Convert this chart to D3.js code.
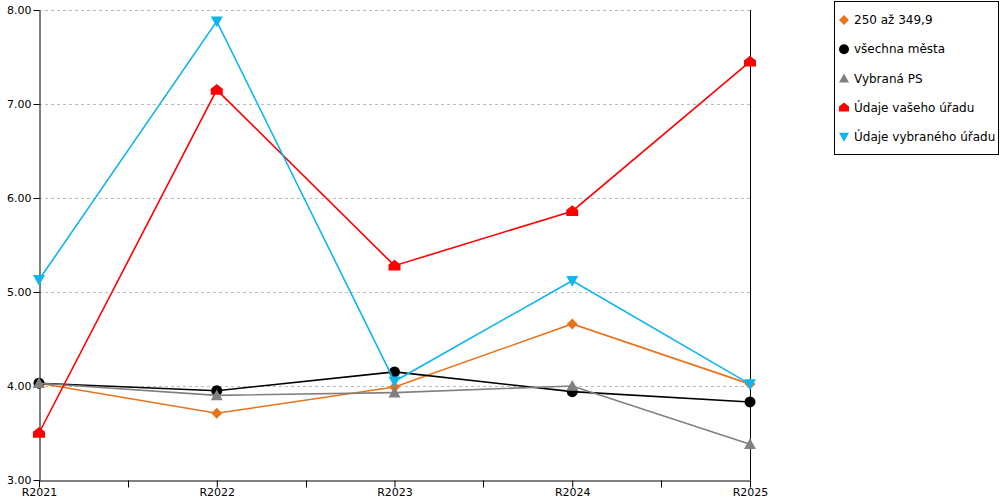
<!DOCTYPE html>
<html>
<head>
<meta charset="utf-8">
<script src="https://cdn.jsdelivr.net/npm/d3@7"></script>
<style>
  body { margin: 0; background: #fff; }
  svg { font-family: "DejaVu Sans", sans-serif; font-size: 11px; }
</style>
</head>
<body>
<svg id="chart" width="1000" height="500"></svg>
<script>
const years = ["R2021", "R2022", "R2023", "R2024", "R2025"];
const yTicks = [3, 4, 5, 6, 7, 8];

const seriesNames = ["250 až 349,9", "všechna města", "Vybraná PS", "Údaje vašeho úřadu", "Údaje vybraného úřadu"];
const seriesColors = ["#e8731c", "#000000", "#808080", "#ff0000", "#10b4ee"];
const seriesSymbols = ["diamond", "circle", "triangle", "house", "triangleDown"];

const range250 = [4.03, 3.71, 3.99, 4.66, 4.02];
const allCities = [4.03, 3.95, 4.15, 3.94, 3.83];
const selectedPS = [4.03, 3.90, 3.93, 4.00, 3.38];
const yourOffice = [3.50, 7.15, 5.28, 5.86, 7.45];
const selectedOffice = [5.13, 7.88, 4.05, 5.12, 4.02];

const seriesValues = [range250, allCities, selectedPS, yourOffice, selectedOffice];

(function () {
    'use strict';

    const svg = d3.select("#chart");
    const left = 39, right = 750, top = 10, bottom = 480;

    const x = d3.scalePoint().domain(years).range([left, right]);
    const y = d3.scaleLinear().domain([3, 8]).range([bottom, top]);

    // dotted grid
    svg.append("g")
        .selectAll("line")
        .data(yTicks.slice(1))
        .join("line")
        .attr("x1", left).attr("x2", right)
        .attr("y1", d => y(d) + 0.5).attr("y2", d => y(d) + 0.5)
        .attr("stroke", "#bbb")
        .attr("stroke-dasharray", "3,3");

    // y axis
    const yAxis = svg.append("g")
        .attr("transform", `translate(${left + 0.5},0)`)
        .call(d3.axisLeft(y).tickValues(yTicks).tickFormat(d3.format(".2f")).tickSize(6).tickSizeOuter(0));
    yAxis.select(".domain").attr("stroke", "#000");
    yAxis.selectAll("text").attr("font-size", 11).attr("fill", "#000").attr("dy", "0.32em").attr("x", -8);
    yAxis.selectAll("text").style("font-family", "DejaVu Sans");

    // x axis with minor ticks between categories
    const xAxis = svg.append("g")
        .attr("transform", `translate(0,${bottom + 0.5})`)
        .call(d3.axisBottom(x).tickSize(7).tickSizeOuter(0).tickPadding(1));
    xAxis.select(".domain").attr("stroke", "#000");
    xAxis.selectAll("text").attr("font-size", 11).attr("fill", "#000").style("font-family", "DejaVu Sans");
    const mids = years.slice(1).map((d, i) => (x(years[i]) + x(d)) / 2);
    xAxis.selectAll(".mid")
        .data(mids)
        .join("line")
        .attr("class", "mid")
        .attr("x1", d => Math.round(d) + 0.5).attr("x2", d => Math.round(d) + 0.5)
        .attr("y1", 0).attr("y2", 7)
        .attr("stroke", "#000");

    // right border
    svg.append("line")
        .attr("x1", right + 0.5).attr("x2", right + 0.5)
        .attr("y1", top).attr("y2", bottom)
        .attr("stroke", "#000");

    function symbolPath(kind, s) {
        switch (kind) {
            case "diamond": return `M0,${-s}L${s},0L0,${s}L${-s},0Z`;
            case "circle": return `M${-s},0A${s},${s} 0 1,0 ${s},0A${s},${s} 0 1,0 ${-s},0Z`;
            case "triangle": return `M0,${-s}L${s},${s * 0.8}L${-s},${s * 0.8}Z`;
            case "triangleDown": return `M${-s},${-s * 0.8}L${s},${-s * 0.8}L0,${s}Z`;
            case "house": return `M0,${-s}L${s},${-s * 0.2}L${s},${s * 0.8}L${-s},${s * 0.8}L${-s},${-s * 0.2}Z`;
        }
    }
    const symbolSize = [5.5, 5.5, 6, 6, 6];

    const line = d3.line().x((d, i) => x(years[i])).y(d => y(d));

    seriesValues.forEach((vals, k) => {
        const g = svg.append("g");
        g.append("path")
            .attr("d", line(vals))
            .attr("fill", "none")
            .attr("stroke", seriesColors[k])
            .attr("stroke-width", 1.6);
        g.selectAll("path.pt")
            .data(vals)
            .join("path")
            .attr("class", "pt")
            .attr("transform", (d, i) => `translate(${x(years[i])},${y(d)})`)
            .attr("d", symbolPath(seriesSymbols[k], symbolSize[k]))
            .attr("fill", seriesColors[k]);
    });

    // legend
    const legend = svg.append("g");
    legend.append("rect")
        .attr("x", 834.5).attr("y", 1.5)
        .attr("width", 164).attr("height", 153)
        .attr("fill", "#fff").attr("stroke", "#000");
    const item = legend.selectAll("g.item")
        .data(seriesNames)
        .join("g")
        .attr("class", "item")
        .attr("transform", (d, i) => `translate(0,${20 + i * 29.2})`);
    item.append("path")
        .attr("transform", "translate(844,0)")
        .attr("d", (d, i) => symbolPath(seriesSymbols[i], 5))
        .attr("fill", (d, i) => seriesColors[i]);
    item.append("text")
        .attr("x", 854).attr("dy", "0.35em")
        .attr("font-size", 12)
        .attr("fill", "#000")
        .text(d => d);
}());
</script>
</body>
</html>
